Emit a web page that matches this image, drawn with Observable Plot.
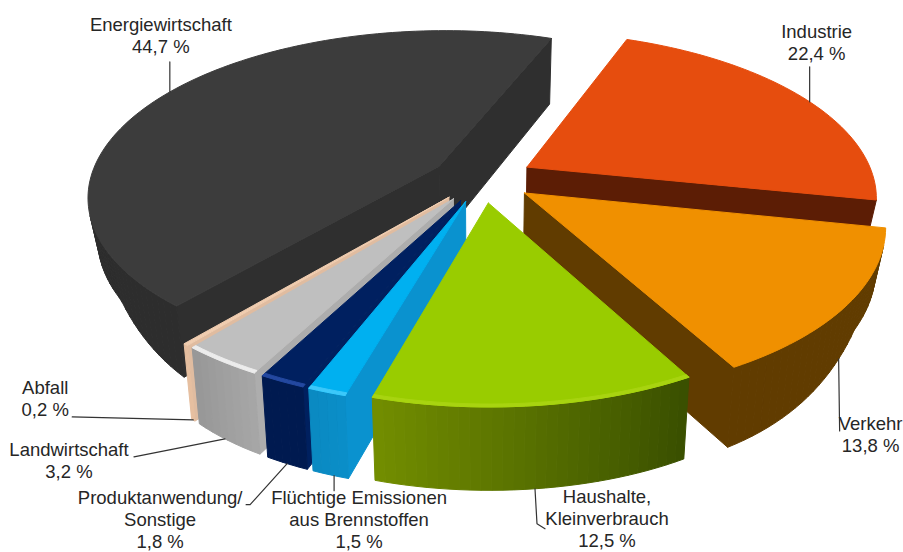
<!DOCTYPE html>
<html><head><meta charset="utf-8">
<script src="https://cdn.jsdelivr.net/npm/d3@7"></script>
<script src="https://cdn.jsdelivr.net/npm/@observablehq/plot@0.6"></script>
<style>body{margin:0;background:#fff}svg{display:block}</style></head>
<body><div id="chart"></div>
<script>
// Data, clockwise from the back of the pie
const categories = ["Industrie","Verkehr","Haushalte,\nKleinverbrauch","Flüchtige Emissionen\naus Brennstoffen","Produktanwendung/\nSonstige","Landwirtschaft","Abfall","Energiewirtschaft"];
const shares = [22.4,13.8,12.5,1.5,1.8,3.2,0.2,44.7];

// Styles
const topColors = ["#e64d0e","#f09000","#99cc00","#00b0f0","#002060","#bfbfbf","#f0cdb0","#3c3c3c"];
const rimColorsStart = ["#5c1d05","#613c00","#3a5000","#0a8ec8","#001a50","#a6a6a6","#e6bfa0","#2d2d2d"];
const rimColorsEnd = ["#5c1d05","#613c00","#748f00","#0a88c0","#001a50","#969696","#e6bfa0","#303030"];
const edgeColors = ["#5c1d05","#613c00","#4a6600","#0a92cf","#00205f","#adadad","#e0bca0","#2f2f2f"];
const bevelColors = [null,null,"#a8d410","#3cc8fa","#2348a0","#ececec",null,null];
const paintOrder = [0,1,7,6,5,4,3,2];
const rimScale = [1.015,1.02,1,1,1,1,1,1.02];

// Projection of the tilted, exploded pie
const cx=482, cy=178, R=342, Rk=160, persp=0.17, explode=0.15, depth=74, startAngle=-69;
const rad = d => d*Math.PI/180;
const total = d3.sum(shares);
let acc = startAngle;
const slices = shares.map((s,i)=>{const a0=acc; const a1=acc+s/total*360; acc=a1; return {i,a0,a1,mid:(a0+a1)/2};});
function project(u,v,z){
  const f=1/(1-persp*v);
  const hh=depth*(1+0.11*v)*(1-0.45*Math.min(1,Math.pow(Math.abs(u),6)));
  return [cx+R*u*f*(1-0.025*z), cy+Rk*v*f+z*hh];
}
function pt(sl,t,r,z){
  const m=rad(sl.mid), rr=r*rimScale[sl.i];
  return project(explode*Math.cos(m)+rr*Math.cos(rad(t)), explode*Math.sin(m)+rr*Math.sin(rad(t)), z);
}
const arcAngles = sl => {const n=Math.max(3,Math.ceil((sl.a1-sl.a0)/1.5)); return d3.range(n+1).map(k=>sl.a0+(sl.a1-sl.a0)*k/n);};
const area = p => d3.polygonArea(p);
const polys=[]; let pid=0;
function addPoly(p,c){const id=pid++; [...p,p[0]].forEach(q=>polys.push({id,x:q[0],y:q[1],c}));}
for(const idx of paintOrder){
  const sl=slices[idx]; const ts=arcAngles(sl);
  const wall=(P,Q,c)=>{ // P,Q as [t,r] boundary points
    const q=[pt(sl,P[0],P[1],0),pt(sl,Q[0],Q[1],0),pt(sl,Q[0],Q[1],1),pt(sl,P[0],P[1],1)];
    if(area(q)>0) addPoly(q,c);
  };
  wall([sl.a0,0],[sl.a0,1],edgeColors[idx]);
  wall([sl.a1,1],[sl.a1,0],edgeColors[idx]);
  const mix=d3.interpolateRgb(rimColorsStart[idx],rimColorsEnd[idx]);
  for(let k=0;k<ts.length-1;k++) wall([ts[k],1],[ts[k+1],1],mix(k/(ts.length-1)));
  addPoly([pt(sl,sl.a0,0,0),...ts.map(t=>pt(sl,t,1,0))],topColors[idx]);
  if(bevelColors[idx]) addPoly([...ts.map(t=>pt(sl,t,1,0)),...ts.slice().reverse().map(t=>pt(sl,t,0.988,0))],bevelColors[idx]);
}

// Label placement relative to a point on each slice's rim
const labelPlacement = [
  {at:.53,z:0,bend:[[0,-35]],text:[7,-60]},
  {at:.5,z:1,bend:[[1,72]],text:[32,75]},
  {at:.5,z:1,bend:[[2,35],[10,40]],text:[72,29]},
  {at:.4,z:1,bend:[[0,15]],text:[25,43]},
  {at:.5,z:1,bend:[[-37,41],[-41,41]],text:[-127,55.5]},
  {at:.55,z:1,bend:[[-91,18]],text:[-156,21]},
  {at:.5,z:1,bend:[[-121,-3]],text:[-148,-22]},
  {at:.5,z:0,bend:[[0,-30]],text:[-9,-57]}
];
const leaders=[], labels=[];
slices.forEach((sl,i)=>{
  const L=labelPlacement[i];
  const [ax,ay]=pt(sl,sl.a0+(sl.a1-sl.a0)*L.at,1,L.z);
  [[0,0],...L.bend].forEach(b=>leaders.push({id:i,x:ax+b[0],y:ay+b[1]}));
  labels.push({x:ax+L.text[0],y:ay+L.text[1],t:categories[i]+"\n"+shares[i].toFixed(1).replace(".",",")+" %"});
});

document.getElementById("chart").append(Plot.plot({
  width:903,height:552,margin:0,
  x:{axis:null,domain:[0,903]},
  y:{axis:null,domain:[552,0]},
  color:{type:"identity"},
  style:{background:"#fff"},
  marks:[
    Plot.line(polys,{x:"x",y:"y",z:"id",fill:"c",stroke:"c",strokeWidth:1}),
    Plot.line(leaders,{x:"x",y:"y",z:"id",stroke:"#333",strokeWidth:1.2}),
    Plot.text(labels,{x:"x",y:"y",text:"t",fontSize:18.5,lineHeight:1.2,fontFamily:"Liberation Sans",fill:"#262626"})
  ]
}));
</script></body></html>
